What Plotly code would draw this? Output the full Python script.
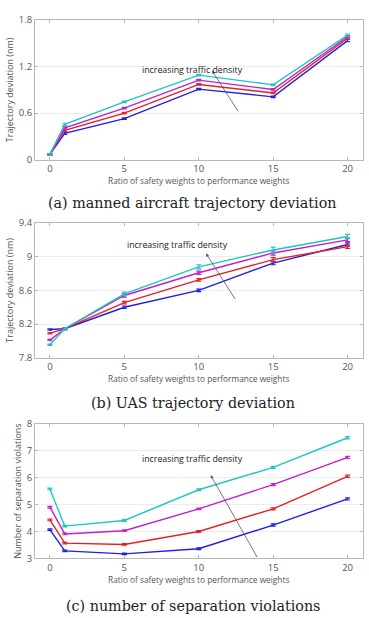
import plotly.graph_objects as go

x_vals = [0, 1, 5, 10, 15, 20]
series_names = ["density 1", "density 2", "density 3", "density 4"]
colors = ["#1f1fe6", "#e62020", "#c21fc9", "#1fc4c4"]

# (a) manned aircraft trajectory deviation
a_vals = [
    [0.07, 0.34, 0.53, 0.91, 0.81, 1.535],
    [0.07, 0.38, 0.60, 0.97, 0.86, 1.565],
    [0.07, 0.41, 0.665, 1.025, 0.905, 1.585],
    [0.07, 0.455, 0.745, 1.09, 0.965, 1.605],
]
a_err = [
    [0.01, 0.015, 0.01, 0.01, 0.01, 0.015],
    [0.01, 0.015, 0.01, 0.01, 0.01, 0.015],
    [0.01, 0.015, 0.01, 0.01, 0.01, 0.015],
    [0.01, 0.015, 0.01, 0.01, 0.01, 0.015],
]
# (b) UAS trajectory deviation
b_vals = [
    [8.135, 8.145, 8.40, 8.60, 8.925, 9.145],
    [8.09, 8.145, 8.455, 8.725, 8.965, 9.12],
    [8.01, 8.145, 8.54, 8.81, 9.045, 9.20],
    [7.955, 8.145, 8.56, 8.88, 9.08, 9.24],
]
b_err = [
    [0.008, 0.01, 0.015, 0.015, 0.02, 0.02],
    [0.008, 0.01, 0.015, 0.015, 0.025, 0.02],
    [0.008, 0.01, 0.02, 0.02, 0.025, 0.02],
    [0.008, 0.01, 0.02, 0.025, 0.035, 0.025],
]
# (c) number of separation violations
c_vals = [
    [4.07, 3.28, 3.17, 3.36, 4.24, 5.21],
    [4.43, 3.57, 3.52, 4.00, 4.84, 6.05],
    [4.90, 3.91, 4.03, 4.84, 5.74, 6.75],
    [5.58, 4.20, 4.41, 5.55, 6.38, 7.48],
]
c_err = [
    [0.03, 0.03, 0.03, 0.03, 0.04, 0.04],
    [0.03, 0.03, 0.03, 0.03, 0.04, 0.04],
    [0.03, 0.03, 0.03, 0.03, 0.04, 0.04],
    [0.03, 0.03, 0.03, 0.03, 0.04, 0.04],
]

x_ticks = [0, 5, 10, 15, 20]
a_ticks = [0, 0.6, 1.2, 1.8]
a_ticktext = ["0", "0.6", "1.2", "1.8"]
b_ticks = [7.8, 8.2, 8.6, 9.0, 9.4]
b_ticktext = ["7.8", "8.2", "8.6", "9", "9.4"]
c_ticks = [3, 4, 5, 6, 7, 8]

captions = ["(a) manned aircraft trajectory deviation",
            "(b) UAS trajectory deviation",
            "(c) number of separation violations"]
y_titles = ["Trajectory deviation (nm)", "Trajectory deviation (nm)",
            "Number of separation violations"]
x_title = "Ratio of safety weights to performance weights"
annot_text = "increasing traffic density"

W, H = 369, 618
fig = go.Figure()

panels = [
    (a_vals, a_err, [0, 1.8], a_ticks, a_ticktext, (13.3, 156.0)),
    (b_vals, b_err, [7.8, 9.4], b_ticks, b_ticktext, (220.7, 358.3)),
    (c_vals, c_err, [3, 8], c_ticks, [str(t) for t in c_ticks], (425.7, 563.3)),
]
arrows = [
    ((239, 107), (212, 65), (193, 56)),
    ((236, 298.7), (206, 251.7), (177, 243)),
    ((258, 561.7), (210.7, 478.3), (193, 470)),
]

x_left, x_right = 35.0, 362.5
tick_font = dict(family="Open Sans", size=9.5, color="#555555")
for i, (vals, errs, yr, yt, ytt, (ptop, pbot)) in enumerate(panels):
    xa = "x" if i == 0 else f"x{i+1}"
    ya = "y" if i == 0 else f"y{i+1}"
    for s in range(4):
        fig.add_trace(go.Scatter(
            x=x_vals, y=vals[s], mode="lines", name=series_names[s],
            line=dict(color=colors[s], width=1.4),
            error_y=dict(type="data", array=errs[s], color=colors[s],
                         thickness=1.2, width=2.5),
            xaxis=xa, yaxis=ya, showlegend=False))
    dom_y = [1 - pbot / H, 1 - ptop / H]
    common = dict(showline=True, linecolor="#b8b8b8", linewidth=1, mirror="ticks",
                  ticks="inside", ticklen=3, tickcolor="#b8b8b8",
                  tickfont=tick_font, zeroline=False)
    fig.layout[f"xaxis{'' if i == 0 else i+1}"] = dict(
        domain=[x_left / W, x_right / W], range=[-1, 21], anchor=ya,
        tickvals=x_ticks, showgrid=False,
        title=dict(text=x_title, font=dict(family="Open Sans", size=8.3, color="#555555"),
                   standoff=0),
        **common)
    fig.layout[f"yaxis{'' if i == 0 else i+1}"] = dict(
        domain=dom_y, range=yr, anchor=xa, tickvals=yt, ticktext=ytt,
        showgrid=True, gridcolor="#ececec", gridwidth=1,
        title=dict(text=y_titles[i], font=dict(family="Open Sans", size=9, color="#555555"),
                   standoff=3),
        **common)
    (tx, ty), (hx, hy), (lx, ly) = arrows[i]
    fig.add_annotation(x=hx / W, y=1 - hy / H, ax=tx - hx, ay=ty - hy,
                       xref="paper", yref="paper", axref="pixel", ayref="pixel",
                       showarrow=True, arrowhead=2, arrowsize=0.8, arrowwidth=0.8,
                       arrowcolor="#555555", text="")
    fig.add_annotation(x=lx / W, y=1 - ly / H, xref="paper", yref="paper",
                       text=annot_text, showarrow=False,
                       font=dict(family="Open Sans", size=8.8, color="#222222"))

cap_y = [200, 405, 611.7]
for i in range(3):
    fig.add_annotation(x=193 / W, y=1 - cap_y[i] / H, xref="paper", yref="paper",
                       text=captions[i], showarrow=False, yanchor="middle",
                       font=dict(family="DejaVu Serif", size=14.3, color="#222222"))

fig.update_layout(width=W, height=H, margin=dict(l=0, r=0, t=0, b=0),
                  paper_bgcolor="white", plot_bgcolor="white")
fig.write_html("out.html")
